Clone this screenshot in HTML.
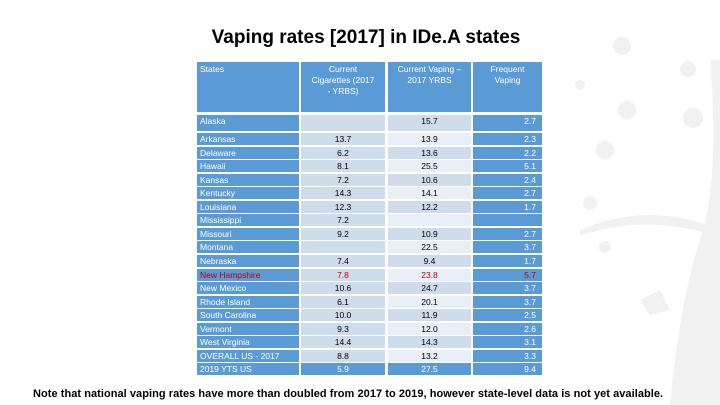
<!DOCTYPE html>
<html><head><meta charset="utf-8"><style>
body{margin:0;width:720px;height:405px;background:#fff;position:relative;overflow:hidden;font-family:"Liberation Sans",Arial,sans-serif}
#title{position:absolute;left:0;width:732px;top:27px;text-align:center;font-size:19px;font-weight:bold;color:#000}
#note{position:absolute;left:33px;top:388px;font-size:11px;letter-spacing:0.05px;font-weight:bold;color:#000;white-space:nowrap}
.c{position:absolute;font-size:8.5px;line-height:12px;box-sizing:border-box;white-space:nowrap}
.h{background:#5b9bd5;color:#fff;font-size:8.5px;line-height:11px;white-space:normal}
</style></head><body>
<svg style="position:absolute;left:560px;top:0" width="160" height="405">
<g fill="#f1f1f1">
<circle cx="62" cy="46" r="9"/><circle cx="128" cy="69" r="8"/><circle cx="20" cy="85" r="5"/><circle cx="133" cy="118" r="10"/><circle cx="67" cy="110" r="9"/><circle cx="45" cy="150" r="9"/><circle cx="30" cy="203" r="7"/><circle cx="45" cy="247" r="6"/>
<path d="M150 60 Q160 180 140 240 Q120 300 110 405 L160 405 L160 60 Z"/>
<path d="M20 230 Q90 200 160 230 L160 238 Q90 212 20 236 Z"/>
<path d="M80 300 l20 -10 l10 20 l-20 5z"/>
</g></svg>
<div id="title">Vaping rates [2017] in IDe.A states</div>
<div id="tbl"></div>
<div id="note">Note that national vaping rates have more than doubled from 2017 to 2019, however state-level data is not yet available.</div>
<script>
const states=["Alaska","Arkansas","Delaware","Hawaii","Kansas","Kentucky","Louisiana","Mississippi","Missouri","Montana","Nebraska","New Hampshire","New Mexico","Rhode Island","South Carolina","Vermont","West Virginia","OVERALL US - 2017","2019 YTS US"];
const cigarettes=[null,"13.7","6.2","8.1","7.2","14.3","12.3","7.2","9.2",null,"7.4","7.8","10.6","6.1","10.0","9.3","14.4","8.8","5.9"];
const vaping=["15.7","13.9","13.6","25.5","10.6","14.1","12.2",null,"10.9","22.5","9.4","23.8","24.7","20.1","11.9","12.0","14.3","13.2","27.5"];
const frequent=["2.7","2.3","2.2","5.1","2.4","2.7","1.7",null,"2.7","3.7","1.7","5.7","3.7","3.7","2.5","2.6","3.1","3.3","9.4"];
const headers=["States","Current Cigarettes (2017 - YRBS)","Current Vaping – 2017 YRBS","Frequent Vaping"];
const cols=[[197,102],[301,84],[388,83],[473,69]];
const t=document.getElementById('tbl');
function cell(x,y,w,h,txt,bg,col,align){
  const d=document.createElement('div');d.className='c';
  d.style.cssText=`left:${x}px;top:${y}px;width:${w}px;height:${h}px;background:${bg};color:${col};text-align:${align};padding:0 ${align==='left'?3:0}px`;
  d.textContent=txt||'';return d;}
headers.forEach((h,i)=>{
  const d=document.createElement('div');d.className='c h';
  
  
  d.style.cssText=`left:${cols[i][0]}px;top:62px;width:${cols[i][1]}px;height:50px;text-align:${i==0?'left':'center'};padding:2px ${i==0?3:8}px`;
  d.textContent=h;t.appendChild(d);
});
states.forEach((s,r)=>{
  let y,h;
  if(r===0){y=115;h=16;}else{y=133+(r-1)*13.55;h=12;}
  const last=r===states.length-1, nh=s==="New Hampshire";
  const tc=nh?'#c00000':'#000';
  const vals=[s,cigarettes[r],vaping[r],frequent[r]];
  vals.forEach((v,i)=>{
    let bg,col;
    if(i===0||i===3||last){bg='#5b9bd5';col=nh?'#c00000':'#fff';}
    else if(i===1){bg='#cfdcec';col=tc;}
    else{bg=(r%2===0)?'#cfdcec':'#e9eff7';col=tc;}
    const d=cell(cols[i][0],y,cols[i][1],h,v,bg,col,i===0?'left':(i===3?'right':'center'));
    if(i===3)d.style.paddingRight='6px';
    
    
    t.appendChild(d);
  });
});
</script>
</body></html>
